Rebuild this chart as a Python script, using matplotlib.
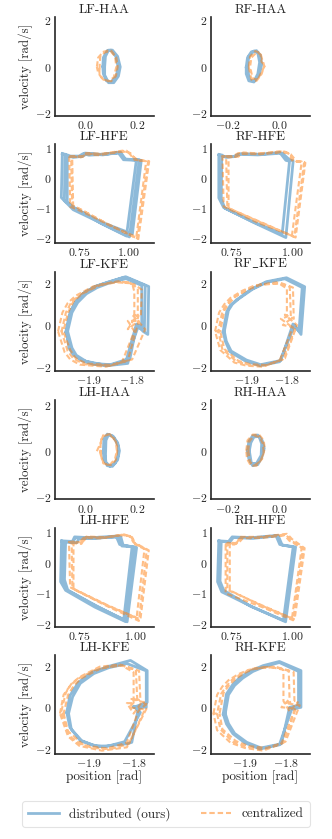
import matplotlib
matplotlib.use("Agg")
import matplotlib.pyplot as plt
from matplotlib.lines import Line2D
from matplotlib.ticker import FixedLocator

# ---------------- data (position [rad], velocity [rad/s]) ----------------
TITLES = ["LF-HAA", "RF-HAA", "LF-HFE", "RF-HFE", "LF-KFE", r"RF$\_$KFE",
          "LH-HAA", "RH-HAA", "LH-HFE", "RH-HFE", "LH-KFE", "RH-KFE"]
SERIES_LABELS = ["distributed (ours)", "centralized"]

LF_HAA_DIST = [
    [(0.075, 0.0), (0.078, 0.45), (0.09, 0.72), (0.105, 0.72), (0.125, 0.45), (0.135, 0.0),
     (0.128, -0.4), (0.11, -0.68), (0.09, -0.68), (0.075, -0.35), (0.075, 0.0)],
    [(0.068, 0.0), (0.07, 0.4), (0.085, 0.7), (0.1, 0.72), (0.118, 0.45), (0.127, 0.0),
     (0.12, -0.4), (0.1, -0.65), (0.082, -0.6), (0.07, -0.3), (0.068, 0.0)],
]
LF_HAA_CENT = [
    [(0.055, -0.1), (0.058, 0.45), (0.075, 0.62), (0.1, 0.7), (0.12, 0.4), (0.125, 0.0),
     (0.118, -0.4), (0.1, -0.62), (0.07, -0.55), (0.055, -0.3), (0.055, -0.1)],
    [(0.045, 0.0), (0.05, 0.4), (0.07, 0.65), (0.095, 0.72), (0.115, 0.45), (0.12, 0.0),
     (0.11, -0.45), (0.09, -0.62), (0.065, -0.5), (0.05, -0.25), (0.045, 0.0)],
]
RF_HAA_DIST = [
    [(-0.13, 0.0), (-0.125, 0.4), (-0.11, 0.65), (-0.09, 0.7), (-0.075, 0.5), (-0.07, 0.1),
     (-0.08, -0.35), (-0.1, -0.65), (-0.12, -0.6), (-0.13, -0.3), (-0.13, 0.0)],
    [(-0.125, 0.0), (-0.12, 0.45), (-0.1, 0.68), (-0.085, 0.6), (-0.078, 0.2), (-0.085, -0.3),
     (-0.1, -0.62), (-0.118, -0.55), (-0.125, 0.0)],
]
RF_HAA_CENT = [
    [(-0.12, 0.0), (-0.115, 0.45), (-0.095, 0.68), (-0.075, 0.6), (-0.065, 0.2), (-0.06, 0.05),
     (-0.07, -0.3), (-0.09, -0.6), (-0.11, -0.55), (-0.12, 0.0)],
    [(-0.115, 0.0), (-0.11, 0.4), (-0.09, 0.62), (-0.075, 0.55), (-0.07, 0.2), (-0.055, 0.1),
     (-0.07, -0.2), (-0.085, -0.55), (-0.105, -0.5), (-0.115, 0.0)],
]

LF_HFE_DIST = [
    [(0.665, 0.80), (0.69, 0.72), (0.75, 0.72), (0.77, 0.80), (0.80, 0.75), (0.88, 0.78),
     (0.96, 0.85), (0.985, 0.62), (1.055, 0.60), (1.005, -1.95), (0.88, -1.55), (0.72, -1.05),
     (0.66, -0.65), (0.665, 0.80)],
    [(0.68, 0.78), (0.70, 0.70), (0.76, 0.70), (0.78, 0.82), (0.86, 0.78), (0.95, 0.82),
     (0.975, 0.60), (1.04, 0.58), (0.99, -1.92), (0.86, -1.5), (0.73, -1.0), (0.675, -0.75),
     (0.68, 0.78)],
    [(0.69, 0.75), (0.72, 0.68), (0.77, 0.72), (0.79, 0.80), (0.87, 0.76), (0.955, 0.84),
     (0.98, 0.62), (1.065, 0.58), (1.02, -1.85), (0.87, -1.48), (0.72, -0.98), (0.69, -0.8),
     (0.69, 0.75)],
]
LF_HFE_CENT = [
    [(0.70, 0.72), (0.76, 0.70), (0.78, 0.78), (0.85, 0.75), (0.95, 0.85), (0.99, 0.90),
     (1.02, 0.72), (1.05, 0.58), (1.105, 0.55), (1.05, -2.02), (0.92, -1.6), (0.76, -1.1),
     (0.705, -0.95), (0.70, 0.72)],
    [(0.71, 0.70), (0.76, 0.68), (0.79, 0.80), (0.86, 0.78), (0.96, 0.88), (1.0, 0.85),
     (1.03, 0.60), (1.09, 0.55), (1.04, -1.95), (0.90, -1.55), (0.76, -1.05), (0.715, -0.9),
     (0.71, 0.70)],
    [(0.715, 0.72), (0.77, 0.70), (0.785, 0.82), (0.87, 0.80), (0.97, 0.90), (1.01, 0.82),
     (1.04, 0.58), (1.10, 0.56), (1.045, -2.0), (0.91, -1.58), (0.77, -1.08), (0.72, -0.92),
     (0.715, 0.72)],
]
RF_HFE_DIST = [
    [(0.70, 0.77), (0.72, 0.70), (0.76, 0.70), (0.78, 0.78), (0.86, 0.76), (0.96, 0.82),
     (0.99, 0.60), (1.005, 0.56), (0.975, -1.97), (0.85, -1.5), (0.72, -0.98), (0.70, -0.66),
     (0.70, 0.77)],
    [(0.712, 0.75), (0.73, 0.68), (0.77, 0.72), (0.79, 0.80), (0.87, 0.78), (0.95, 0.84),
     (0.975, 0.58), (0.99, 0.55), (0.96, -1.85), (0.84, -1.45), (0.725, -1.0), (0.71, -0.7),
     (0.712, 0.75)],
]
RF_HFE_CENT = [
    [(0.73, 0.70), (0.77, 0.70), (0.79, 0.80), (0.87, 0.78), (0.96, 0.86), (0.99, 0.80),
     (1.01, 0.55), (1.05, 0.52), (1.01, -1.95), (0.88, -1.5), (0.735, -0.98), (0.73, 0.70)],
    [(0.715, 0.72), (0.75, 0.68), (0.78, 0.82), (0.86, 0.80), (0.95, 0.88), (0.985, 0.82),
     (1.00, 0.58), (1.04, 0.54), (1.0, -1.9), (0.86, -1.48), (0.72, -0.95), (0.715, 0.72)],
    [(0.74, 0.72), (0.78, 0.70), (0.80, 0.84), (0.88, 0.80), (0.97, 0.87), (0.995, 0.78),
     (1.02, 0.54), (1.055, 0.50), (1.015, -1.97), (0.89, -1.52), (0.74, -1.0), (0.74, 0.72)],
]

LF_KFE_DIST = [
    [(-1.952, -0.32), (-1.947, 0.2), (-1.942, 0.64), (-1.93, 1.1), (-1.912, 1.52), (-1.885, 1.85),
     (-1.857, 2.05), (-1.815, 2.32), (-1.762, 1.85), (-1.764, -0.45), (-1.775, -0.3),
     (-1.785, 0.0), (-1.80, -0.9), (-1.81, -1.84), (-1.857, -1.95), (-1.89, -1.88),
     (-1.912, -1.73), (-1.932, -1.45), (-1.942, -1.12), (-1.952, -0.32)],
    [(-1.948, -0.3), (-1.938, 0.6), (-1.925, 1.08), (-1.905, 1.5), (-1.88, 1.8), (-1.855, 2.0),
     (-1.81, 2.25), (-1.77, 1.9), (-1.772, -0.3), (-1.79, -0.05), (-1.805, -1.6), (-1.85, -1.9),
     (-1.885, -1.85), (-1.905, -1.75), (-1.928, -1.45), (-1.938, -1.1), (-1.948, -0.3)],
    [(-1.95, -0.25), (-1.94, 0.7), (-1.928, 1.15), (-1.91, 1.55), (-1.885, 1.85), (-1.86, 2.02),
     (-1.82, 2.28), (-1.778, 1.9), (-1.778, -0.2), (-1.79, 0.05), (-1.815, -1.8),
     (-1.86, -1.93), (-1.915, -1.7), (-1.935, -1.42), (-1.945, -1.1), (-1.95, -0.25)],
]
LF_KFE_CENT = [
    [(-1.97, -0.3), (-1.96, 0.6), (-1.948, 1.05), (-1.93, 1.4), (-1.89, 1.85), (-1.84, 2.08),
     (-1.805, 2.05), (-1.787, 1.75), (-1.787, 0.2), (-1.81, 0.2), (-1.795, -0.3),
     (-1.823, -1.76), (-1.86, -2.0), (-1.92, -1.9), (-1.942, -1.65), (-1.955, -1.3),
     (-1.97, -0.3)],
    [(-1.962, -0.3), (-1.952, 0.6), (-1.94, 1.08), (-1.92, 1.45), (-1.88, 1.9), (-1.835, 2.05),
     (-1.80, 2.0), (-1.795, 1.6), (-1.795, 0.3), (-1.81, -0.2), (-1.785, 0.2), (-1.81, -1.7),
     (-1.85, -1.95), (-1.91, -1.88), (-1.935, -1.6), (-1.948, -1.25), (-1.962, -0.3)],
    [(-1.958, -0.3), (-1.947, 0.6), (-1.935, 1.12), (-1.915, 1.5), (-1.87, 1.95), (-1.83, 2.1),
     (-1.795, 1.95), (-1.778, 1.7), (-1.78, 0.4), (-1.8, 0.5), (-1.77, -0.2), (-1.80, -1.65),
     (-1.845, -1.92), (-1.905, -1.85), (-1.93, -1.58), (-1.942, -1.2), (-1.958, -0.3)],
]
RF_KFE_DIST = [
    [(-1.958, -0.32), (-1.949, 0.64), (-1.94, 0.95), (-1.925, 1.2), (-1.89, 1.7), (-1.851, 2.08),
     (-1.801, 2.27), (-1.756, 1.84), (-1.765, -0.45), (-1.781, 0.0), (-1.80, -0.9),
     (-1.818, -1.76), (-1.867, -1.95), (-1.905, -1.7), (-1.941, -1.28), (-1.952, -0.8),
     (-1.958, -0.32)],
    [(-1.955, -0.3), (-1.945, 0.7), (-1.935, 1.0), (-1.92, 1.25), (-1.885, 1.72), (-1.85, 2.05),
     (-1.805, 2.22), (-1.762, 1.8), (-1.77, -0.3), (-1.785, 0.05), (-1.815, -1.7),
     (-1.865, -1.9), (-1.9, -1.68), (-1.938, -1.25), (-1.95, -0.78), (-1.955, -0.3)],
]
RF_KFE_CENT = [
    [(-1.978, -0.3), (-1.968, 0.6), (-1.955, 1.0), (-1.94, 1.3), (-1.91, 1.65), (-1.88, 1.9),
     (-1.826, 2.05), (-1.793, 1.84), (-1.79, 0.3), (-1.81, 0.0), (-1.785, -0.1), (-1.818, -1.7),
     (-1.86, -2.0), (-1.9, -1.95), (-1.93, -1.8), (-1.965, -1.2), (-1.978, -0.3)],
    [(-1.97, -0.3), (-1.96, 0.65), (-1.948, 1.02), (-1.93, 1.35), (-1.9, 1.68), (-1.87, 1.92),
     (-1.82, 2.0), (-1.80, 1.75), (-1.80, 0.4), (-1.815, 0.3), (-1.78, -0.2), (-1.81, -1.65),
     (-1.855, -1.95), (-1.895, -1.9), (-1.925, -1.75), (-1.96, -1.15), (-1.97, -0.3)],
    [(-1.965, -0.3), (-1.955, 0.7), (-1.942, 1.08), (-1.925, 1.4), (-1.895, 1.72), (-1.865, 1.95),
     (-1.815, 2.02), (-1.785, 1.8), (-1.783, 0.3), (-1.805, 0.5), (-1.775, 0.0), (-1.805, -1.6),
     (-1.85, -1.92), (-1.89, -1.88), (-1.92, -1.72), (-1.955, -1.15), (-1.965, -0.3)],
]

LH_HAA_DIST = [
    [(0.07, 0.0), (0.072, 0.5), (0.085, 0.72), (0.105, 0.65), (0.125, 0.35), (0.132, 0.0),
     (0.125, -0.4), (0.105, -0.68), (0.085, -0.65), (0.072, -0.35), (0.07, 0.0)],
    [(0.078, -0.3), (0.08, 0.45), (0.09, 0.7), (0.11, 0.6), (0.128, 0.2), (0.128, -0.2),
     (0.115, -0.55), (0.095, -0.68), (0.08, -0.5), (0.078, -0.3)],
]
LH_HAA_CENT = [
    [(0.045, -0.02), (0.06, 0.35), (0.065, 0.62), (0.09, 0.7), (0.115, 0.5), (0.125, 0.1),
     (0.118, -0.4), (0.1, -0.62), (0.075, -0.6), (0.062, -0.3), (0.06, 0.1)],
    [(0.058, -0.1), (0.06, 0.4), (0.07, 0.68), (0.095, 0.72), (0.118, 0.4), (0.122, 0.0),
     (0.115, -0.35), (0.095, -0.62), (0.07, -0.55), (0.058, -0.1)],
]
RH_HAA_DIST = [
    [(-0.125, 0.0), (-0.12, 0.4), (-0.105, 0.65), (-0.085, 0.68), (-0.068, 0.45), (-0.06, 0.1),
     (-0.07, -0.3), (-0.085, -0.6), (-0.105, -0.65), (-0.12, -0.35), (-0.125, 0.0)],
    [(-0.118, 0.0), (-0.112, 0.35), (-0.1, 0.6), (-0.08, 0.62), (-0.07, 0.3), (-0.072, -0.2),
     (-0.09, -0.55), (-0.11, -0.55), (-0.118, 0.0)],
]
RH_HAA_CENT = [
    [(-0.13, 0.0), (-0.125, 0.45), (-0.105, 0.7), (-0.08, 0.7), (-0.062, 0.45), (-0.058, 0.1),
     (-0.068, -0.35), (-0.09, -0.65), (-0.112, -0.65), (-0.127, -0.35), (-0.13, 0.0)],
    [(-0.122, 0.0), (-0.118, 0.4), (-0.1, 0.65), (-0.078, 0.6), (-0.065, 0.3), (-0.062, -0.1),
     (-0.075, -0.45), (-0.095, -0.62), (-0.115, -0.5), (-0.122, 0.0)],
]

LH_HFE_DIST = [
    [(0.672, 0.72), (0.72, 0.70), (0.73, 0.85), (0.80, 0.82), (0.925, 0.88), (0.94, 0.55),
     (0.995, 0.52), (0.955, -1.92), (0.82, -1.45), (0.69, -0.9), (0.668, -0.62), (0.672, 0.72)],
    [(0.68, 0.70), (0.72, 0.68), (0.735, 0.82), (0.82, 0.80), (0.915, 0.86), (0.93, 0.60),
     (1.005, 0.50), (0.963, -1.93), (0.83, -1.42), (0.695, -0.88), (0.675, -0.6), (0.68, 0.70)],
    [(0.69, 0.68), (0.74, 0.66), (0.75, 0.80), (0.84, 0.82), (0.935, 0.85), (0.945, 0.58),
     (0.985, 0.52), (0.948, -1.85), (0.82, -1.4), (0.70, -0.9), (0.685, -0.55), (0.69, 0.68)],
]
LH_HFE_CENT = [
    [(0.717, 0.65), (0.76, 0.62), (0.78, 0.85), (0.86, 0.82), (0.93, 0.90), (0.975, 0.88),
     (0.99, 0.68), (1.059, 0.41), (1.022, -1.85), (0.88, -1.4), (0.72, -0.83), (0.717, 0.65)],
    [(0.705, 0.68), (0.75, 0.66), (0.77, 0.82), (0.85, 0.80), (0.94, 0.92), (0.98, 0.85),
     (1.0, 0.6), (1.04, 0.45), (1.005, -1.8), (0.87, -1.38), (0.71, -0.8), (0.705, 0.68)],
    [(0.725, 0.70), (0.765, 0.66), (0.785, 0.86), (0.87, 0.84), (0.95, 0.93), (0.985, 0.84),
     (1.0, 0.62), (1.05, 0.43), (1.015, -1.9), (0.875, -1.42), (0.725, -0.86), (0.725, 0.70)],
]
RH_HFE_DIST = [
    [(0.70, 0.72), (0.74, 0.70), (0.755, 0.85), (0.83, 0.82), (0.943, 0.90), (0.96, 0.58),
     (1.015, 0.52), (0.974, -1.93), (0.84, -1.45), (0.712, -0.95), (0.695, -0.62), (0.70, 0.72)],
    [(0.71, 0.70), (0.745, 0.68), (0.76, 0.83), (0.84, 0.80), (0.935, 0.88), (0.95, 0.60),
     (1.005, 0.52), (0.965, -1.88), (0.83, -1.42), (0.72, -0.9), (0.705, -0.6), (0.71, 0.70)],
]
RH_HFE_CENT = [
    [(0.735, 0.65), (0.77, 0.62), (0.79, 0.85), (0.87, 0.85), (0.98, 0.95), (1.0, 0.78),
     (1.052, 0.48), (1.011, -1.85), (0.88, -1.4), (0.735, -0.88), (0.735, 0.65)],
    [(0.745, 0.66), (0.78, 0.64), (0.80, 0.82), (0.88, 0.82), (0.97, 0.90), (0.99, 0.72),
     (1.04, 0.50), (1.0, -1.82), (0.87, -1.38), (0.745, -0.9), (0.745, 0.66)],
    [(0.728, 0.60), (0.765, 0.60), (0.785, 0.80), (0.86, 0.82), (0.975, 0.92), (0.995, 0.75),
     (1.045, 0.46), (1.005, -1.88), (0.875, -1.44), (0.728, -1.0), (0.728, 0.60)],
]

LH_KFE_DIST = [
    [(-1.948, -0.24), (-1.941, 0.56), (-1.922, 1.2), (-1.892, 1.68), (-1.856, 1.96),
     (-1.807, 2.25), (-1.770, 1.76), (-1.770, 0.24), (-1.80, 0.0), (-1.775, 0.1), (-1.79, -0.1),
     (-1.804, -1.68), (-1.815, -1.75), (-1.878, -1.89), (-1.918, -1.6), (-1.941, -0.96),
     (-1.948, -0.24)],
    [(-1.944, -0.3), (-1.935, 0.5), (-1.918, 1.15), (-1.888, 1.62), (-1.855, 1.9), (-1.815, 2.1),
     (-1.772, 1.75), (-1.772, 0.0), (-1.8, 0.05), (-1.785, -0.25), (-1.82, -1.65),
     (-1.86, -1.88), (-1.89, -1.82), (-1.915, -1.6), (-1.938, -1.05), (-1.944, -0.3)],
]
LH_KFE_CENT = [
    [(-1.963, -0.3), (-1.955, 0.6), (-1.94, 1.05), (-1.925, 1.35), (-1.885, 1.8), (-1.84, 2.0),
     (-1.826, 2.0), (-1.8, 1.68), (-1.80, 0.2), (-1.815, 0.2), (-1.8, -0.3), (-1.78, 0.3),
     (-1.77, 0.0), (-1.815, -1.92), (-1.87, -2.08), (-1.92, -1.85), (-1.945, -1.4),
     (-1.963, -0.3)],
    [(-1.955, -0.3), (-1.945, 0.6), (-1.932, 1.05), (-1.915, 1.4), (-1.87, 1.9), (-1.825, 2.0),
     (-1.795, 1.8), (-1.792, 0.4), (-1.81, 0.0), (-1.775, -0.1), (-1.81, -1.75), (-1.85, -2.0),
     (-1.89, -1.95), (-1.91, -1.82), (-1.945, -1.15), (-1.955, -0.3)],
    [(-1.96, -0.2), (-1.95, 0.7), (-1.938, 1.12), (-1.92, 1.45), (-1.875, 1.95), (-1.83, 2.05),
     (-1.788, 1.75), (-1.785, 0.35), (-1.805, 0.4), (-1.77, 0.2), (-1.79, -0.2), (-1.815, -1.7),
     (-1.86, -1.98), (-1.915, -1.8), (-1.938, -1.45), (-1.948, -1.1), (-1.96, -0.2)],
]
RH_KFE_DIST = [
    [(-1.953, -0.32), (-1.945, 0.64), (-1.93, 1.08), (-1.912, 1.44), (-1.885, 1.75),
     (-1.855, 2.0), (-1.815, 2.2), (-1.762, 1.76), (-1.762, 0.0), (-1.785, -0.1), (-1.80, -0.95),
     (-1.815, -1.8), (-1.863, -2.0), (-1.9, -1.7), (-1.929, -1.27), (-1.945, -0.8),
     (-1.953, -0.32)],
    [(-1.948, -0.3), (-1.94, 0.6), (-1.925, 1.05), (-1.905, 1.4), (-1.88, 1.72), (-1.852, 1.95),
     (-1.815, 2.15), (-1.768, 1.72), (-1.768, 0.1), (-1.79, 0.0), (-1.81, -1.75), (-1.86, -1.95),
     (-1.895, -1.68), (-1.925, -1.25), (-1.94, -0.78), (-1.948, -0.3)],
]
RH_KFE_CENT = [
    [(-1.977, -0.3), (-1.968, 0.6), (-1.955, 1.0), (-1.94, 1.3), (-1.915, 1.6), (-1.89, 1.8),
     (-1.84, 1.95), (-1.805, 1.8), (-1.805, 0.3), (-1.79, -0.2), (-1.77, 0.25), (-1.81, -1.75),
     (-1.855, -2.08), (-1.9, -1.95), (-1.935, -1.7), (-1.968, -1.1), (-1.977, -0.3)],
    [(-1.968, -0.3), (-1.958, 0.65), (-1.945, 1.02), (-1.93, 1.35), (-1.905, 1.65), (-1.88, 1.85),
     (-1.83, 1.95), (-1.792, 1.75), (-1.79, 0.4), (-1.81, 0.0), (-1.775, -0.05), (-1.805, -1.7),
     (-1.85, -2.0), (-1.895, -1.9), (-1.93, -1.65), (-1.96, -1.05), (-1.968, -0.3)],
    [(-1.962, -0.3), (-1.952, 0.7), (-1.938, 1.08), (-1.92, 1.4), (-1.895, 1.7), (-1.87, 1.9),
     (-1.82, 1.92), (-1.78, 1.7), (-1.778, 0.3), (-1.8, 0.2), (-1.765, 0.1), (-1.8, -1.65),
     (-1.845, -1.95), (-1.89, -1.86), (-1.922, -1.62), (-1.955, -1.05), (-1.962, -0.3)],
]

PANEL_DIST = [LF_HAA_DIST, RF_HAA_DIST, LF_HFE_DIST, RF_HFE_DIST, LF_KFE_DIST, RF_KFE_DIST,
              LH_HAA_DIST, RH_HAA_DIST, LH_HFE_DIST, RH_HFE_DIST, LH_KFE_DIST, RH_KFE_DIST]
PANEL_CENT = [LF_HAA_CENT, RF_HAA_CENT, LF_HFE_CENT, RF_HFE_CENT, LF_KFE_CENT, RF_KFE_CENT,
              LH_HAA_CENT, RH_HAA_CENT, LH_HFE_CENT, RH_HFE_CENT, LH_KFE_CENT, RH_KFE_CENT]

X_TICKS = [[0.0, 0.2], [-0.2, 0.0], [0.75, 1.00], [0.75, 1.00], [-1.9, -1.8], [-1.9, -1.8],
           [0.0, 0.2], [-0.2, 0.0], [0.75, 1.00], [0.75, 1.00], [-1.9, -1.8], [-1.9, -1.8]]
Y_TICKS_HAA = [-2, 0, 2]
Y_TICKS_HFE = [-2, -1, 0, 1]
Y_TICKS_KFE = [-2, 0, 2]

# ---------------- layout / style ----------------
XLIMS = [(-0.116, 0.263), (-0.267, 0.116), (0.628, 1.127), (0.668, 1.072),
         (-1.977, -1.751), (-1.988, -1.744), (-0.116, 0.263), (-0.267, 0.116),
         (0.643, 1.080), (0.668, 1.072), (-1.974, -1.756), (-1.983, -1.741)]
YLIMS = [(-2.10, 2.16), (-2.10, 2.16), (-2.15, 1.12), (-2.15, 1.12),
         (-2.19, 2.56), (-2.19, 2.56), (-2.11, 2.19), (-2.11, 2.19),
         (-2.09, 1.15), (-2.09, 1.15), (-2.24, 2.51), (-2.24, 2.51)]

W, H = 332, 839
plt.rcParams.update({
    "font.family": ["cmr10", "DejaVu Serif"],
    "mathtext.fontset": "cm",
    "axes.formatter.use_mathtext": True,
    "axes.unicode_minus": True,
})

fig = plt.figure(figsize=(W / 100, H / 100), dpi=100)
fig.patch.set_facecolor("white")

BLUE = "#1f77b4"
ORANGE = "#ff7f0e"
DASH = (0, (2.6, 1.4))
col_x = [55, 211]
ax_w = 98.5
ax_h = 99
row_bottom = [115.7, 243.0, 370.7, 499.3, 626.7, 754.0]


def joined(cycles):
    xs, ys = [], []
    for cyc in cycles:
        xs += [p[0] for p in cyc]
        ys += [p[1] for p in cyc]
    return xs, ys


for i in range(12):
    r, c = divmod(i, 2)
    ax = fig.add_axes([col_x[c] / W, (H - row_bottom[r]) / H, ax_w / W, ax_h / H])
    xs, ys = joined(PANEL_DIST[i])
    ax.plot(xs, ys, color=BLUE, alpha=0.5, lw=2.0)
    xs, ys = joined(PANEL_CENT[i])
    ax.plot(xs, ys, color=ORANGE, alpha=0.5, lw=1.5, linestyle=DASH)
    ax.set_xlim(*XLIMS[i])
    ax.set_ylim(*YLIMS[i])
    ax.xaxis.set_major_locator(FixedLocator(X_TICKS[i]))
    if r in (0, 3):
        yt = Y_TICKS_HAA
    elif r in (1, 4):
        yt = Y_TICKS_HFE
    else:
        yt = Y_TICKS_KFE
    ax.yaxis.set_major_locator(FixedLocator(yt))
    ax.set_title(TITLES[i], fontsize=9.5, pad=3, color="#262626")
    for s in ("top", "right"):
        ax.spines[s].set_visible(False)
    for s in ("left", "bottom"):
        ax.spines[s].set_color("#262626")
        ax.spines[s].set_linewidth(1.2)
    ax.tick_params(length=0, pad=2.5, labelsize=8.5, colors="#262626")
    ax.set_facecolor("white")
    if c == 0:
        ax.set_ylabel("velocity [rad/s]", fontsize=9.3, labelpad=1.5, color="#262626")
    if r == 5:
        ax.set_xlabel("position [rad]", fontsize=9.5, labelpad=1, color="#262626")

handles = [Line2D([], [], color=BLUE, alpha=0.5, lw=2.0),
           Line2D([], [], color=ORANGE, alpha=0.5, lw=1.5, linestyle=DASH)]
leg = fig.legend(handles, SERIES_LABELS, loc="lower center", bbox_to_anchor=(0.5, 0.007),
                 ncol=2, fontsize=9.5, handlelength=2.3, columnspacing=2.3, frameon=True,
                 fancybox=True, borderpad=0.45)
leg.get_frame().set_edgecolor("#dddddd")
leg.get_frame().set_linewidth(0.8)
for t in leg.get_texts():
    t.set_color("#262626")

fig.savefig("out.png", dpi=100, facecolor="white")
